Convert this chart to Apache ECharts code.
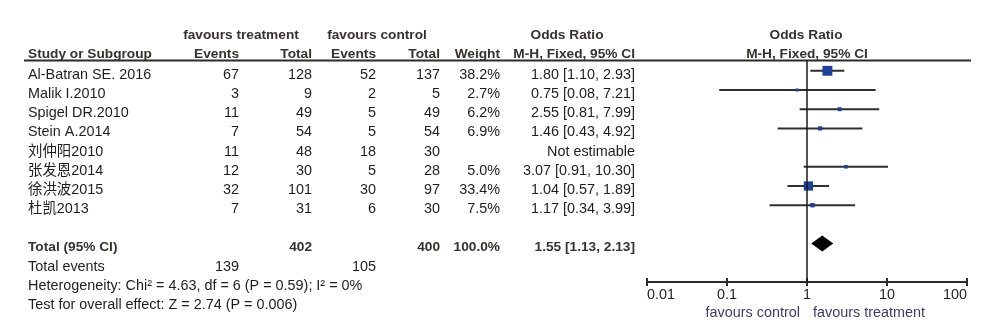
<!DOCTYPE html>
<html>
<head>
<meta charset="utf-8">
<script src="https://cdn.jsdelivr.net/npm/echarts@6/dist/echarts.min.js"></script>
<style>
  html, body { margin: 0; padding: 0; background: #fff; }
  #chart { width: 1000px; height: 328px; }
</style>
</head>
<body>
<div id="chart"></div>
<script>
// Studies and their 2x2 counts
const studies = ['Al-Batran SE. 2016', 'Malik I.2010', 'Spigel DR.2010', 'Stein A.2014',
                 '刘仲阳2010', '张发恩2014', '徐洪波2015', '杜凯2013'];
const trtEvents = [67, 3, 11, 7, 11, 12, 32, 7];
const trtTotal  = [128, 9, 49, 54, 48, 30, 101, 31];
const ctlEvents = [52, 2, 5, 5, 18, 5, 30, 6];
const ctlTotal  = [137, 5, 49, 54, 30, 28, 97, 30];
// Weights (%) and odds ratios with 95% CI (null = not estimable)
const weights = [38.2, 2.7, 6.2, 6.9, null, 5.0, 33.4, 7.5];
const oddsRatio = [1.80, 0.75, 2.55, 1.46, null, 3.07, 1.04, 1.17];
const ciLow  = [1.10, 0.08, 0.81, 0.43, null, 0.91, 0.57, 0.34];
const ciHigh = [2.93, 7.21, 7.99, 4.92, null, 10.30, 1.89, 3.99];
// Pooled estimate
const pooled = { or: 1.55, lo: 1.13, hi: 2.13, trtTotal: 402, ctlTotal: 400, weight: 100.0,
                 trtEvents: 139, ctlEvents: 105 };
const heterogeneityText = 'Heterogeneity: Chi² = 4.63, df = 6 (P = 0.59); I² = 0%';
const overallText = 'Test for overall effect: Z = 2.74 (P = 0.006)';
// Axis ticks
const tickLabels = ['0.01', '0.1', '1', '10', '100'];

const FONT_FAMILY = "'Liberation Sans', Arial, 'Noto Sans CJK SC', sans-serif";
const FS = 14.4;
const FS_BOLD = 13.7;
const TXT = '#1e1e1e';
const HEAD = '#36322e';

const chart = echarts.init(document.getElementById('chart'), null, { renderer: 'canvas' });

// Table layout
const ROW0 = 74.8, ROWH = 19.2;
const COL = { name: 28, tEv: 239, tTot: 312, cEv: 376, cTot: 440, w: 500, ci: 635 };
const rowY = i => ROW0 + ROWH * i;

const fmt2 = v => v.toFixed(2);
const ciText = i => oddsRatio[i] == null ? 'Not estimable'
  : fmt2(oddsRatio[i]) + ' [' + fmt2(ciLow[i]) + ', ' + fmt2(ciHigh[i]) + ']';

function txt(text, x, y, align, bold, color) {
  return {
    type: 'text', silent: true,
    style: {
      text: String(text), x: x, y: y,
      textAlign: align, textVerticalAlign: 'middle',
      font: (bold ? 'bold ' : '') + (bold ? FS_BOLD : FS) + 'px ' + FONT_FAMILY,
      fill: color || (bold ? HEAD : TXT)
    }
  };
}

const graphics = [];
// Column headers
graphics.push(txt('favours treatment', 241, 35, 'center', true));
graphics.push(txt('favours control', 377, 35, 'center', true));
graphics.push(txt('Odds Ratio', 567, 35, 'center', true));
graphics.push(txt('Odds Ratio', 806, 35, 'center', true));
graphics.push(txt('Study or Subgroup', COL.name, 54, 'left', true));
graphics.push(txt('Events', COL.tEv, 54, 'right', true));
graphics.push(txt('Total', COL.tTot, 54, 'right', true));
graphics.push(txt('Events', COL.cEv, 54, 'right', true));
graphics.push(txt('Total', COL.cTot, 54, 'right', true));
graphics.push(txt('Weight', COL.w, 54, 'right', true));
graphics.push(txt('M-H, Fixed, 95% CI', COL.ci, 54, 'right', true));
graphics.push(txt('M-H, Fixed, 95% CI', 807, 54, 'center', true));
// Header rule
graphics.push({
  type: 'line', silent: true,
  shape: { x1: 24, y1: 60.5, x2: 971, y2: 60.5 },
  style: { stroke: '#2b2b2b', lineWidth: 2 }
});
// Study rows
studies.forEach((s, i) => {
  const y = rowY(i);
  graphics.push(txt(s, COL.name, y, 'left'));
  graphics.push(txt(trtEvents[i], COL.tEv, y, 'right'));
  graphics.push(txt(trtTotal[i], COL.tTot, y, 'right'));
  graphics.push(txt(ctlEvents[i], COL.cEv, y, 'right'));
  graphics.push(txt(ctlTotal[i], COL.cTot, y, 'right'));
  if (weights[i] != null) graphics.push(txt(weights[i].toFixed(1) + '%', COL.w, y, 'right'));
  graphics.push(txt(ciText(i), COL.ci, y, 'right'));
});
// Totals
const totalRow = studies.length + 1;
graphics.push(txt('Total (95% CI)', COL.name, rowY(totalRow), 'left', true));
graphics.push(txt(pooled.trtTotal, COL.tTot, rowY(totalRow), 'right', true));
graphics.push(txt(pooled.ctlTotal, COL.cTot, rowY(totalRow), 'right', true));
graphics.push(txt(pooled.weight.toFixed(1) + '%', COL.w, rowY(totalRow), 'right', true));
graphics.push(txt(fmt2(pooled.or) + ' [' + fmt2(pooled.lo) + ', ' + fmt2(pooled.hi) + ']',
  COL.ci, rowY(totalRow), 'right', true));
graphics.push(txt('Total events', COL.name, rowY(totalRow + 1), 'left'));
graphics.push(txt(pooled.trtEvents, COL.tEv, rowY(totalRow + 1), 'right'));
graphics.push(txt(pooled.ctlEvents, COL.cEv, rowY(totalRow + 1), 'right'));
graphics.push(txt(heterogeneityText, COL.name, rowY(totalRow + 2), 'left'));
graphics.push(txt(overallText, COL.name, rowY(totalRow + 3), 'left'));
// Direction labels under the axis
graphics.push(txt('favours control', 800, 313, 'right', false, '#3d3d66'));
graphics.push(txt('favours treatment', 813, 313, 'left', false, '#3d3d66'));

// Forest plot marks
const studyData = [];
studies.forEach((s, i) => {
  if (oddsRatio[i] != null) studyData.push([oddsRatio[i], ciLow[i], ciHigh[i], i, weights[i]]);
});

const axisCommon = {
  type: 'log', logBase: 10, min: 0.01, max: 100,
  position: 'bottom', offset: 0,
  splitLine: { show: false },
  axisLine: { show: true, onZero: false, lineStyle: { color: '#2b2b2b', width: 2 } }
};

chart.setOption({
  animation: false,
  backgroundColor: '#ffffff',
  grid: { left: 647, right: 33, top: 60, bottom: 46, containLabel: false },
  xAxis: [
    Object.assign({}, axisCommon, {
      axisTick: { show: true, inside: false, length: 4, lineStyle: { color: '#2b2b2b', width: 2 } },
      axisLabel: {
        show: true, margin: 6, fontSize: FS, fontFamily: FONT_FAMILY, color: '#1e1e1e',
        alignMinLabel: 'left', alignMaxLabel: 'right',
        formatter: v => tickLabels[Math.round(Math.log10(v)) + 2]
      }
    }),
    Object.assign({}, axisCommon, {
      axisTick: { show: true, inside: true, length: 4, lineStyle: { color: '#2b2b2b', width: 2 } },
      axisLabel: { show: false }
    })
  ],
  yAxis: { type: 'value', inverse: true, min: -0.5625, max: 11, show: false },
  graphic: { elements: graphics },
  series: [
    {
      type: 'custom', xAxisIndex: 0, silent: true,
      data: studyData,
      renderItem: (params, api) => {
        const row = api.value(3);
        const p0 = api.coord([api.value(1), row]);
        const p1 = api.coord([api.value(2), row]);
        const c = api.coord([api.value(0), row]);
        const s = Math.max(3, 1.6 * Math.sqrt(api.value(4)));
        return {
          type: 'group',
          children: [
            { type: 'line', shape: { x1: p0[0], y1: p0[1], x2: p1[0], y2: p1[1] },
              style: { stroke: '#2f2f2f', lineWidth: 2 } },
            { type: 'rect', shape: { x: c[0] - s / 2, y: c[1] - s / 2, width: s, height: s },
              style: { fill: '#1f3f9c' } }
          ]
        };
      },
      markLine: {
        silent: true, symbol: 'none', label: { show: false },
        lineStyle: { color: '#1a1a1a', width: 1.5, type: 'solid' },
        data: [{ xAxis: 1 }]
      }
    },
    {
      type: 'custom', xAxisIndex: 0, silent: true,
      data: [[pooled.or, pooled.lo, pooled.hi, totalRow]],
      renderItem: (params, api) => {
        const row = api.value(3);
        const l = api.coord([api.value(1), row]);
        const r = api.coord([api.value(2), row]);
        const c = api.coord([api.value(0), row]);
        const h = 8;
        return {
          type: 'polygon',
          shape: { points: [[l[0], c[1]], [c[0], c[1] - h], [r[0], c[1]], [c[0], c[1] + h]] },
          style: { fill: '#000000' }
        };
      }
    }
  ]
});
</script>
</body>
</html>
